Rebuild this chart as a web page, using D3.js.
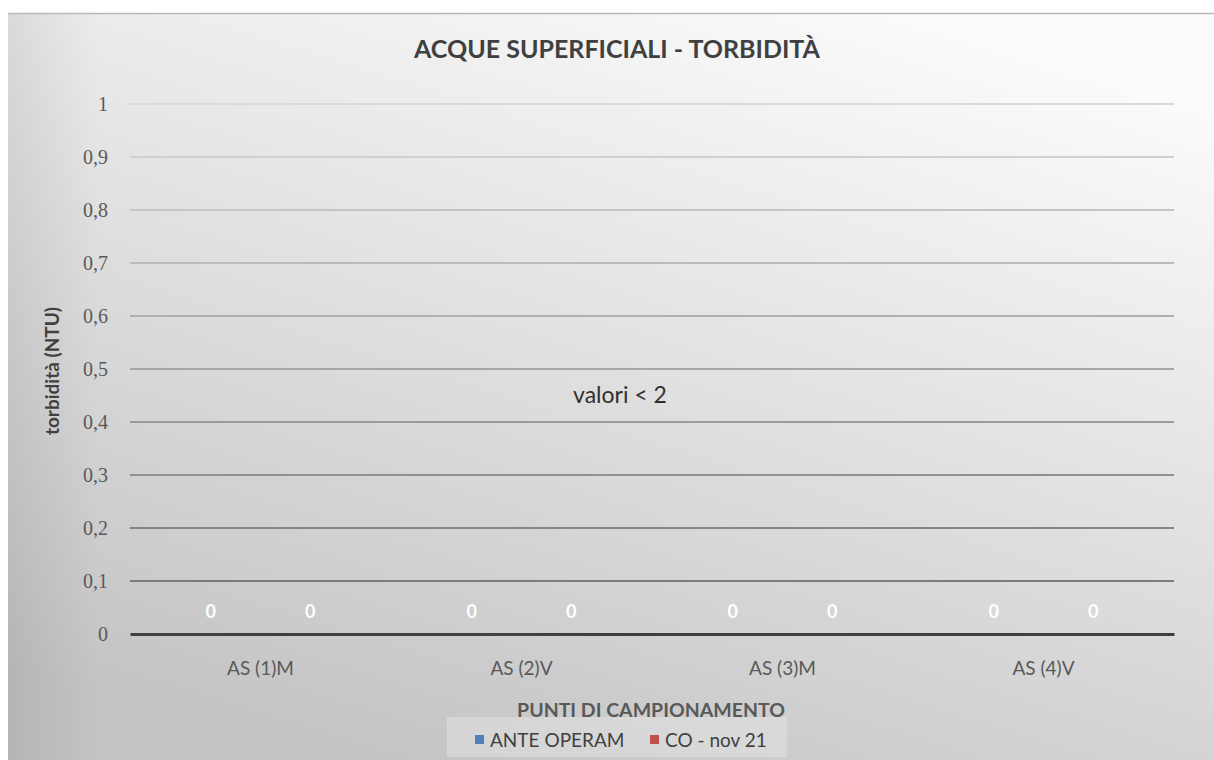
<!DOCTYPE html>
<html>
<head>
<meta charset="utf-8">
<script src="https://cdn.jsdelivr.net/npm/d3@7"></script>
<style>
  html, body { margin: 0; padding: 0; background: #ffffff; }
  svg { display: block; }
</style>
</head>
<body>
<svg id="chart" width="1214" height="760"></svg>
<script>
var categories = ["AS (1)M", "AS (2)V", "AS (3)M", "AS (4)V"],
    seriesNames = ["ANTE OPERAM", "CO - nov 21"],
    anteOperam = [0, 0, 0, 0],
    coNov21 = [0, 0, 0, 0],
    yTicks = [0, 0.1, 0.2, 0.3, 0.4, 0.5, 0.6, 0.7, 0.8, 0.9, 1];

var colors = ["#4f81bd", "#c0504d"],
    margin = {top: 104, left: 130, right: 40, bottom: 126},
    width = 1214 - margin.left - margin.right,
    height = 760 - margin.top - margin.bottom;

var svg = d3.select("#chart");

var defs = svg.append("defs");
var bg = defs.append("linearGradient")
    .attr("id", "bg")
    .attr("x1", "0.75").attr("y1", "0")
    .attr("x2", "0.25").attr("y2", "1");
bg.append("stop").attr("offset", "0").attr("stop-color", "#fbfbfb");
bg.append("stop").attr("offset", "1").attr("stop-color", "#c3c3c3");

var edge = defs.append("linearGradient")
    .attr("id", "edge")
    .attr("x1", "0").attr("y1", "0").attr("x2", "1").attr("y2", "0");
edge.append("stop").attr("offset", "0").attr("stop-color", "#000").attr("stop-opacity", 0.07);
edge.append("stop").attr("offset", "1").attr("stop-color", "#000").attr("stop-opacity", 0);

// chart area background
svg.append("rect")
    .attr("x", 8).attr("y", 13)
    .attr("width", 1206).attr("height", 747)
    .attr("fill", "url(#bg)");
svg.append("rect")
    .attr("x", 8).attr("y", 13)
    .attr("width", 90).attr("height", 747)
    .attr("fill", "url(#edge)");
svg.append("line")
    .attr("x1", 8).attr("x2", 1214)
    .attr("y1", 13.5).attr("y2", 13.5)
    .attr("stroke", "#b8b8b8").attr("stroke-width", 1.5);

var x0 = d3.scaleBand().domain(categories).range([0, width]);
var x1 = d3.scaleBand().domain(seriesNames).range([0, x0.bandwidth()])
    .paddingInner(0).paddingOuter(0.31);
var y = d3.scaleLinear().domain([0, 1]).range([height, 0]);

var g = svg.append("g")
    .attr("transform", "translate(" + margin.left + "," + margin.top + ")");

// gridlines get darker toward the bottom
var gridColor = d3.scaleLinear().domain([1, 0.1]).range(["#dadada", "#7c7c7c"]);

g.selectAll(".grid")
    .data(yTicks.filter(function (d) { return d > 0; }))
    .enter().append("line")
    .attr("class", "grid")
    .attr("x1", 0).attr("x2", width)
    .attr("y1", function (d) { return y(d); })
    .attr("y2", function (d) { return y(d); })
    .attr("stroke", function (d) { return gridColor(d); })
    .attr("stroke-width", 2);

// y axis labels
var yAxis = g.append("g")
    .call(d3.axisLeft(y).tickValues(yTicks).tickSize(0).tickPadding(22)
        .tickFormat(function (d) { return String(d).replace(".", ","); }));
yAxis.select(".domain").remove();
yAxis.selectAll("text")
    .attr("font-family", "'Liberation Serif', serif")
    .attr("font-size", 20)
    .attr("fill", "#595959");

// bars (zero height)
var rows = categories.map(function (c, i) {
    return {cat: c, values: [anteOperam[i], coNov21[i]]};
});
var groups = g.selectAll(".cat")
    .data(rows)
    .enter().append("g")
    .attr("transform", function (d) { return "translate(" + x0(d.cat) + ",0)"; });

groups.selectAll("rect")
    .data(function (d) { return d.values.map(function (v, j) { return {s: seriesNames[j], v: v, j: j}; }); })
    .enter().append("rect")
    .attr("x", function (d) { return x1(d.s); })
    .attr("width", x1.bandwidth())
    .attr("y", function (d) { return y(d.v); })
    .attr("height", function (d) { return height - y(d.v); })
    .attr("fill", function (d) { return colors[d.j]; });

groups.selectAll(".lbl")
    .data(function (d) { return d.values.map(function (v, j) { return {s: seriesNames[j], v: v}; }); })
    .enter().append("text")
    .attr("class", "lbl")
    .attr("x", function (d) { return x1(d.s) + x1.bandwidth() / 2; })
    .attr("y", function (d) { return y(d.v) - 16; })
    .attr("text-anchor", "middle")
    .attr("font-family", "Lato, sans-serif")
    .attr("font-weight", "bold")
    .attr("font-size", 18)
    .attr("fill", "#ffffff")
    .text(function (d) { return d.v; });

// x axis
var xAxis = g.append("g")
    .attr("transform", "translate(0," + height + ")")
    .call(d3.axisBottom(x0).tickSize(0).tickPadding(28));
xAxis.select(".domain")
    .attr("stroke", "#404040").attr("stroke-width", 3);
xAxis.selectAll("text")
    .attr("font-family", "Lato, sans-serif")
    .attr("font-size", 19)
    .attr("fill", "#595959");

// title
svg.append("text")
    .attr("x", 617).attr("y", 58)
    .attr("text-anchor", "middle")
    .attr("font-family", "Lato, sans-serif")
    .attr("font-weight", "bold")
    .attr("font-size", 25)
    .attr("fill", "#404040")
    .text("ACQUE SUPERFICIALI - TORBIDITÀ");

// y axis title
svg.append("text")
    .attr("transform", "translate(59," + (margin.top + height / 2 + 2) + ") rotate(-90)")
    .attr("text-anchor", "middle")
    .attr("font-family", "Lato, sans-serif")
    .attr("font-weight", "bold")
    .attr("font-size", 19)
    .attr("fill", "#404040")
    .text("torbidità (NTU)");

// annotation
svg.append("text")
    .attr("x", 620).attr("y", 403)
    .attr("text-anchor", "middle")
    .attr("font-family", "Lato, sans-serif")
    .attr("font-size", 23)
    .attr("fill", "#303030")
    .text("valori < 2");

// legend box
svg.append("rect")
    .attr("x", 447).attr("y", 717)
    .attr("width", 340).attr("height", 40)
    .attr("fill", "#ffffff").attr("fill-opacity", 0.25);

// x axis title
svg.append("text")
    .attr("x", 651).attr("y", 717)
    .attr("text-anchor", "middle")
    .attr("font-family", "Lato, sans-serif")
    .attr("font-weight", "bold")
    .attr("font-size", 19.5)
    .attr("fill", "#595959")
    .text("PUNTI DI CAMPIONAMENTO");

var legX = [475, 650];
var leg = svg.selectAll(".leg")
    .data(seriesNames)
    .enter().append("g")
    .attr("transform", function (d, i) { return "translate(" + legX[i] + ",740)"; });
leg.append("rect")
    .attr("x", 0).attr("y", -5)
    .attr("width", 9).attr("height", 9)
    .attr("fill", function (d, i) { return colors[i]; });
leg.append("text")
    .attr("x", 15).attr("y", 7)
    .attr("font-family", "Lato, sans-serif")
    .attr("font-size", 19)
    .attr("fill", "#404040")
    .text(function (d) { return d; });
</script>
</body>
</html>
